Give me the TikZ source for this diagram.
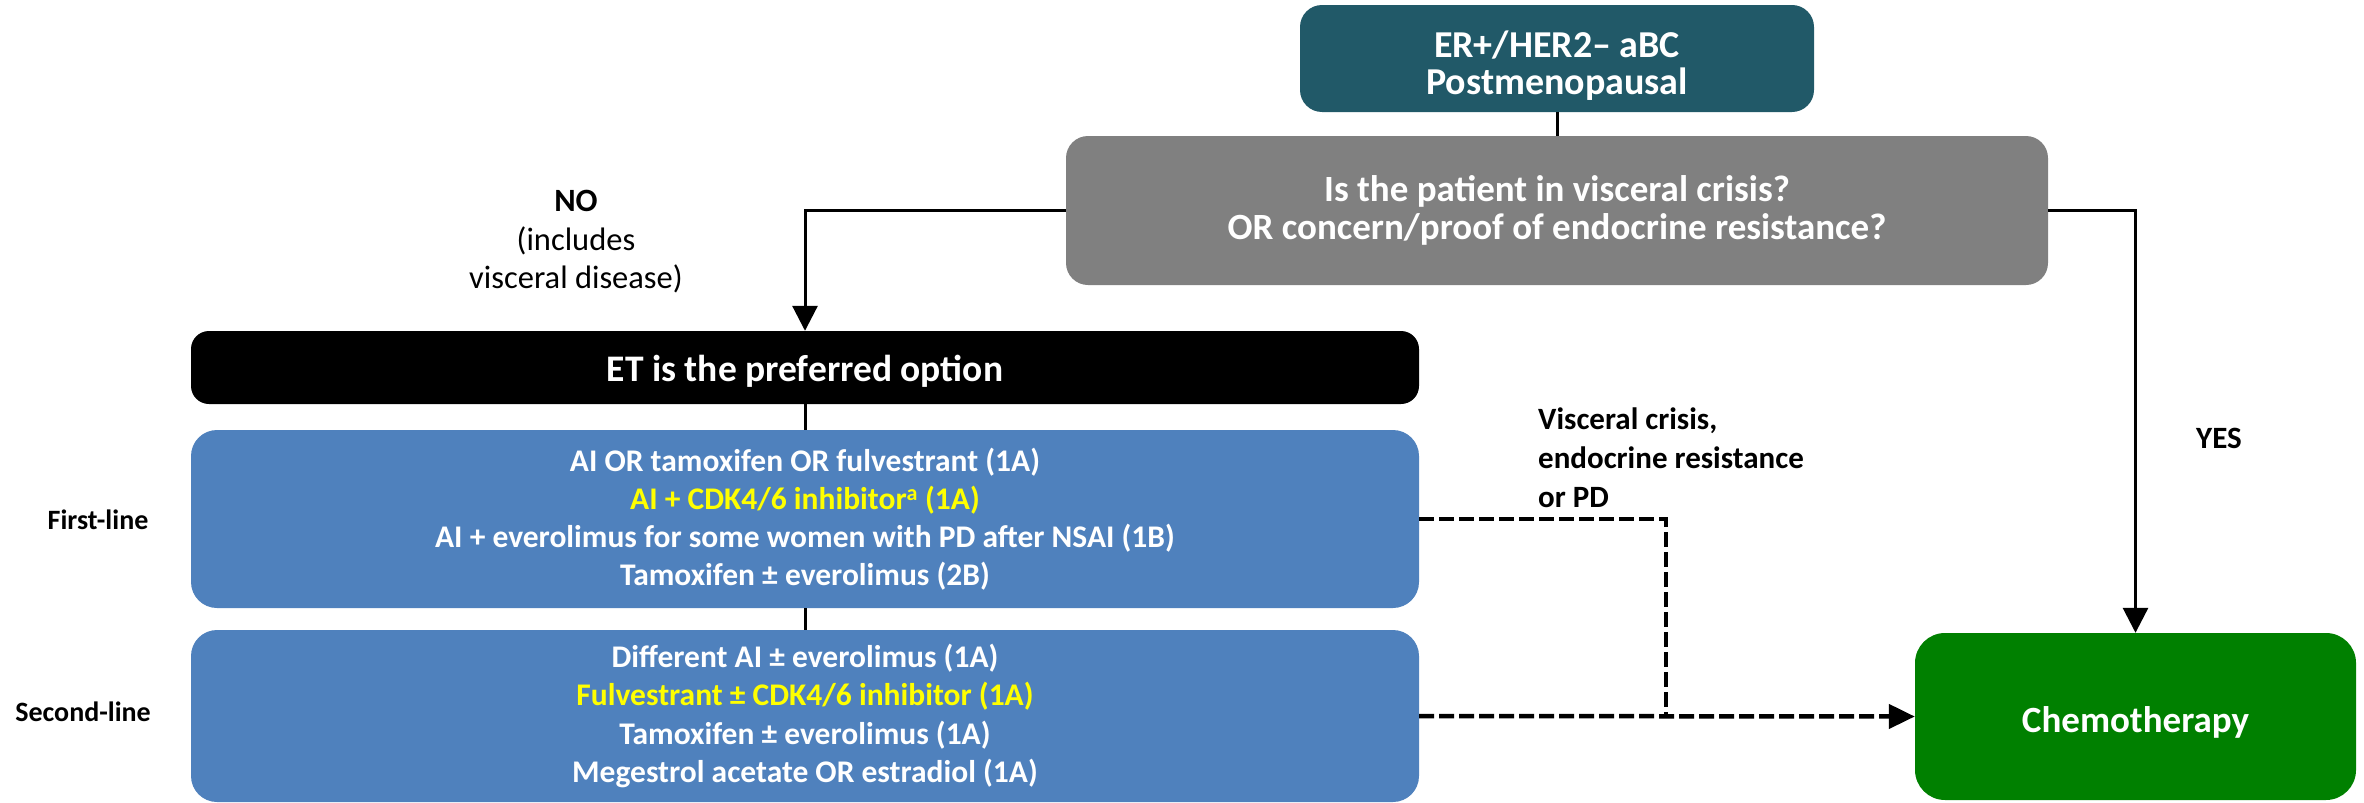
\documentclass[tikz,border=0pt]{standalone}
\usepackage{fontspec}
\setmainfont{Carlito}
\usetikzlibrary{arrows.meta}
\definecolor{tealbox}{RGB}{33,89,104}
\definecolor{graybox}{RGB}{128,128,128}
\definecolor{bluebox}{RGB}{79,129,189}
\definecolor{greenbox}{RGB}{0,128,0}
\definecolor{hiyellow}{RGB}{255,255,0}
\tikzset{
  box/.style={rounded corners=22pt, inner sep=0pt, align=center, text=white, font=\bfseries},
  conn/.style={line width=3pt, draw=black},
  arr/.style={conn, -{Triangle[length=25pt,width=25pt]}},
  dashconn/.style={line width=4.5pt, draw=black, dash pattern=on 15pt off 5pt},
  dasharr/.style={dashconn, -{Triangle[length=26pt,width=24pt]}},
  lbl/.style={inner sep=0pt, text=black},
}
\begin{document}
\begin{tikzpicture}[x=1pt,y=-1pt]
\useasboundingbox (0,0) rectangle (2364,803);
\node[box, fill=tealbox, minimum width=514pt, minimum height=107pt, font=\bfseries\fontsize{38}{37}\selectfont] (top) at (1557,58.5) {\rule{0pt}{41pt}ER+/HER2– aBC\\Postmenopausal};
\node[box, fill=graybox, minimum width=982pt, minimum height=149pt, font=\bfseries\fontsize{37}{38}\selectfont] (q) at (1557,210.5) {Is the patient in visceral crisis?\\OR concern/proof of endocrine resistance?};
\node[box, fill=black, rounded corners=18pt, minimum width=1228pt, minimum height=73pt, font=\bfseries\fontsize{37.5}{40}\selectfont] (et) at (805,367.5) {\rule{0pt}{34pt}ET is the preferred option};
\node[box, fill=bluebox, rounded corners=26pt, minimum width=1228pt, minimum height=178pt, font=\bfseries\fontsize{31.5}{38}\selectfont] (first) at (805,519) {AI OR tamoxifen OR fulvestrant (1A)\\\textcolor{hiyellow}{AI + CDK4/6 inhibitor\textsuperscript{a} (1A)}\\AI + everolimus for some women with PD after NSAI (1B)\\Tamoxifen ± everolimus (2B)};
\node[box, fill=bluebox, rounded corners=26pt, minimum width=1228pt, minimum height=172pt, font=\bfseries\fontsize{31.5}{38.5}\selectfont] (second) at (805,716) {Different AI ± everolimus (1A)\\\textcolor{hiyellow}{Fulvestrant ± CDK4/6 inhibitor (1A)}\\Tamoxifen ± everolimus (1A)\\Megestrol acetate OR estradiol (1A)};
\node[box, fill=greenbox, rounded corners=30pt, minimum width=441pt, minimum height=167pt, font=\bfseries\fontsize{37}{40}\selectfont] (chemo) at (2135.5,716.5) {\rule{0pt}{38pt}Chemotherapy};
\node[lbl, font=\bfseries\fontsize{28}{30}\selectfont] (l1) at (98,520) {First-line};
\node[lbl, font=\bfseries\fontsize{28}{30}\selectfont] (l2) at (83,712) {Second-line};
\node[lbl, align=center, font=\fontsize{32.5}{38.5}\selectfont] (no) at (576,242) {\textbf{NO}\\(includes\\visceral disease)};
\node[lbl, font=\bfseries\fontsize{31}{34}\selectfont] (yes) at (2219,438) {YES};
\node[lbl, align=left, anchor=west, font=\bfseries\fontsize{31}{39}\selectfont] (vc) at (1538,458) {Visceral crisis,\\endocrine resistance\\or PD};
\coordinate (jn) at (1666,716);
\draw[conn] (top.south) -- (q.north);
\draw[arr] (q.west) -| (et.north);
\draw[arr] (q.east) -| (chemo.north);
\draw[conn] (et.south) -- (first.north);
\draw[conn] (first.south) -- (second.north);
\draw[dashconn] (first.east) -| (jn);
\draw[dasharr] (second.east) -- (chemo.west);
\end{tikzpicture}
\end{document}
